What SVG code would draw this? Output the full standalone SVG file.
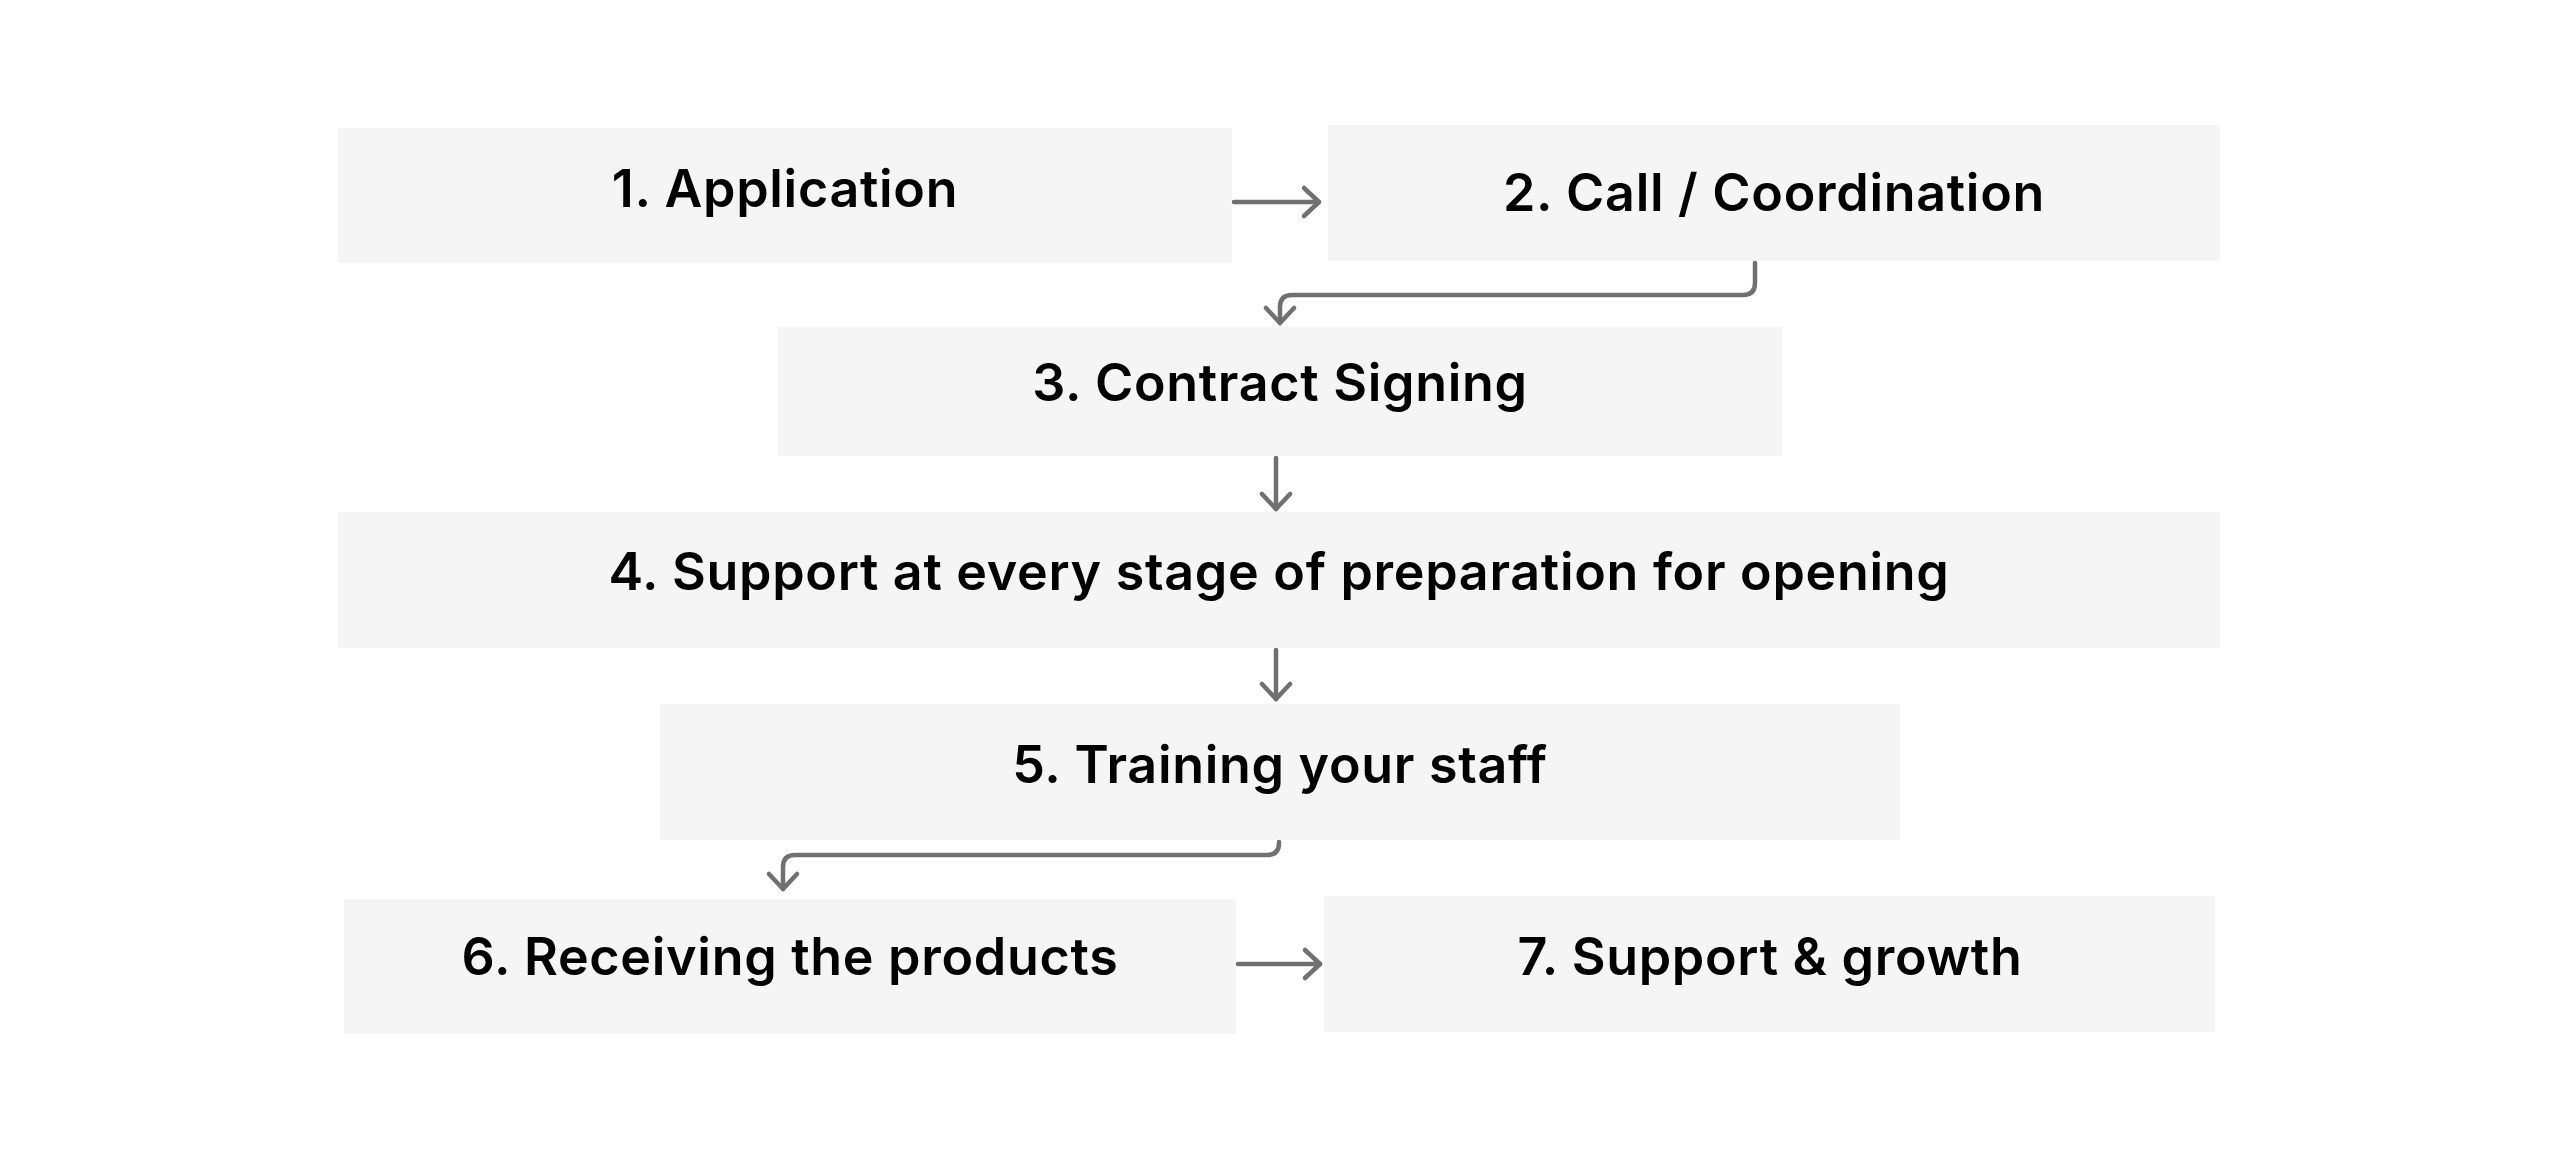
<svg xmlns="http://www.w3.org/2000/svg" width="2560" height="1160" viewBox="0 0 2560 1160">
<style>
.box{fill:#f5f5f5}
.lbl{font-family:Inter,"Noto Sans","Liberation Sans",sans-serif;font-size:52px;font-weight:600;letter-spacing:0.7px;fill:#000;text-anchor:middle}
.conn{fill:none;stroke:#707070;stroke-width:4.5;stroke-linecap:round;stroke-linejoin:round}
</style>
<defs>
<marker id="arr" markerUnits="userSpaceOnUse" markerWidth="40" markerHeight="40" refX="20" refY="20" orient="auto" viewBox="0 0 40 40">
<path d="M5,6 L20,20 L5,34" fill="none" stroke="#707070" stroke-width="4.5" stroke-linecap="round" stroke-linejoin="round"/>
</marker>
</defs>
<rect width="2560" height="1160" fill="#fff"/>
<g id="node1"><rect class="box" x="338" y="128" width="894" height="135"/><text class="lbl" x="785" y="207">1. Application</text></g>
<g id="node2"><rect class="box" x="1328" y="125" width="892" height="136"/><text class="lbl" x="1774" y="211">2. Call / Coordination</text></g>
<g id="node3"><rect class="box" x="778" y="327" width="1004" height="129"/><text class="lbl" x="1280" y="401">3. Contract Signing</text></g>
<g id="node4"><rect class="box" x="338" y="512" width="1882" height="136"/><text class="lbl" x="1279" y="590">4. Support at every stage of preparation for opening</text></g>
<g id="node5"><rect class="box" x="660" y="704" width="1240" height="136"/><text class="lbl" x="1280" y="783">5. Training your staff</text></g>
<g id="node6"><rect class="box" x="344" y="899" width="892" height="135"/><text class="lbl" x="790" y="975">6. Receiving the products</text></g>
<g id="node7"><rect class="box" x="1324" y="896" width="891" height="136"/><text class="lbl" x="1770" y="975">7. Support &amp; growth</text></g>
<g id="connectors">
<path class="conn" d="M1234,202 H1319" marker-end="url(#arr)"/>
<path class="conn" d="M1755,263 V283 Q1755,295 1743,295 H1292 Q1280,295 1280,307 V323" marker-end="url(#arr)"/>
<path class="conn" d="M1276,458 V509" marker-end="url(#arr)"/>
<path class="conn" d="M1276,650 V699" marker-end="url(#arr)"/>
<path class="conn" d="M1279,842 V843 Q1279,855 1267,855 H795 Q783,855 783,867 V889" marker-end="url(#arr)"/>
<path class="conn" d="M1238,964 H1320" marker-end="url(#arr)"/>
</g>
</svg>
